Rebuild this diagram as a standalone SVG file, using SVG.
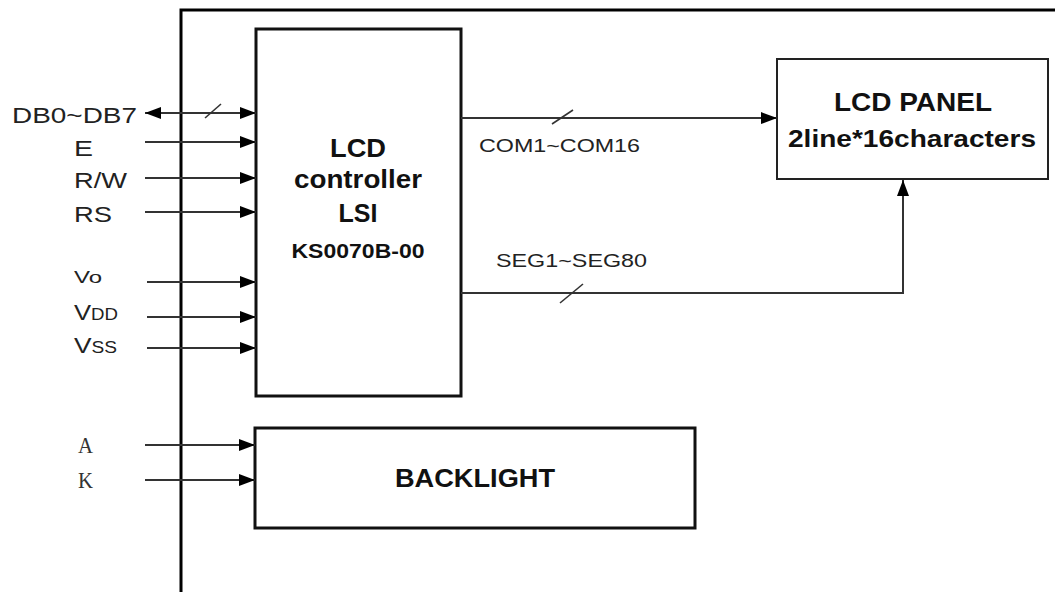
<svg xmlns="http://www.w3.org/2000/svg" width="1055" height="592" viewBox="0 0 1055 592">
<style>
.frame{fill:none;stroke:#000;stroke-width:3}
.box{fill:#fff;stroke:#111;stroke-width:3}
.box2{fill:#fff;stroke:#222;stroke-width:2}
.wire{fill:none;stroke:#333;stroke-width:2}
.slash{stroke:#333;stroke-width:1.6}
.lbl{font-family:"Liberation Sans",Arial,sans-serif;font-size:22px;fill:#222}
.sub{font-size:16px}
.bl{font-family:"Liberation Sans",Arial,sans-serif;font-weight:bold;fill:#111}
.ser{font-family:"Liberation Serif","Times New Roman",serif;font-size:24px;fill:#333}
.bus{font-family:"Liberation Sans",Arial,sans-serif;font-size:19px;fill:#222}
</style>
<defs>
<marker id="ah" viewBox="0 0 16 12" refX="16" refY="6" markerWidth="16" markerHeight="12" markerUnits="userSpaceOnUse" orient="auto-start-reverse">
<path d="M0,0 L16,6 L0,12 z" fill="#000"/>
</marker>
</defs>
<rect width="1055" height="592" fill="#fff"/>
<path class="frame" d="M181,592 V10 H1056"/>
<g id="controller">
<rect class="box" x="256" y="29" width="205" height="367"/>
<text class="bl" x="358" y="157" font-size="25" text-anchor="middle" textLength="56" lengthAdjust="spacingAndGlyphs">LCD</text>
<text class="bl" x="358" y="188" font-size="25" text-anchor="middle" textLength="128" lengthAdjust="spacingAndGlyphs">controller</text>
<text class="bl" x="358" y="222" font-size="25" text-anchor="middle">LSI</text>
<text class="bl" x="358" y="258" font-size="20" text-anchor="middle" textLength="133" lengthAdjust="spacingAndGlyphs">KS0070B-00</text>
</g>
<g id="lcd-panel">
<rect class="box2" x="777" y="59" width="271" height="120"/>
<text class="bl" x="913" y="111" font-size="25" text-anchor="middle" textLength="158" lengthAdjust="spacingAndGlyphs">LCD PANEL</text>
<text class="bl" x="912" y="147" font-size="24" text-anchor="middle" textLength="248" lengthAdjust="spacingAndGlyphs">2line*16characters</text>
</g>
<g id="backlight">
<rect class="box" x="255" y="428" width="440" height="100"/>
<text class="bl" x="475" y="487" font-size="25" text-anchor="middle" textLength="160" lengthAdjust="spacingAndGlyphs">BACKLIGHT</text>
</g>
<g id="labels">
<text class="lbl" x="12" y="123" textLength="125" lengthAdjust="spacingAndGlyphs">DB0~DB7</text>
<text class="lbl" x="74" y="156" textLength="19" lengthAdjust="spacingAndGlyphs">E</text>
<text class="lbl" x="74" y="188" textLength="53" lengthAdjust="spacingAndGlyphs">R/W</text>
<text class="lbl" x="74" y="222" textLength="38" lengthAdjust="spacingAndGlyphs">RS</text>
<text class="lbl" x="74" y="283" textLength="28" lengthAdjust="spacingAndGlyphs"><tspan class="sub">V</tspan><tspan class="sub">o</tspan></text>
<text class="lbl" x="74" y="320" textLength="44" lengthAdjust="spacingAndGlyphs">V<tspan class="sub">DD</tspan></text>
<text class="lbl" x="74" y="353" textLength="43" lengthAdjust="spacingAndGlyphs">V<tspan class="sub">SS</tspan></text>
<text class="ser" x="78" y="453" textLength="15" lengthAdjust="spacingAndGlyphs">A</text>
<text class="ser" x="78" y="488" textLength="15" lengthAdjust="spacingAndGlyphs">K</text>
<text class="bus" x="479" y="152" textLength="161" lengthAdjust="spacingAndGlyphs">COM1~COM16</text>
<text class="bus" x="496" y="267" textLength="151" lengthAdjust="spacingAndGlyphs">SEG1~SEG80</text>
</g>
<g id="connectors">
<line class="wire" x1="145" y1="113" x2="256" y2="113" marker-start="url(#ah)" marker-end="url(#ah)"/>
<line class="slash" x1="205" y1="118" x2="221" y2="104"/>
<line class="wire" x1="145" y1="142" x2="256" y2="142" marker-end="url(#ah)"/>
<line class="wire" x1="145" y1="178" x2="256" y2="178" marker-end="url(#ah)"/>
<line class="wire" x1="145" y1="212" x2="256" y2="212" marker-end="url(#ah)"/>
<line class="wire" x1="147" y1="282" x2="256" y2="282" marker-end="url(#ah)"/>
<line class="wire" x1="147" y1="317" x2="256" y2="317" marker-end="url(#ah)"/>
<line class="wire" x1="147" y1="348" x2="256" y2="348" marker-end="url(#ah)"/>
<line class="wire" x1="145" y1="445" x2="255" y2="445" marker-end="url(#ah)"/>
<line class="wire" x1="145" y1="480" x2="255" y2="480" marker-end="url(#ah)"/>
<line class="wire" x1="461" y1="118" x2="777" y2="118" marker-end="url(#ah)"/>
<line class="slash" x1="552" y1="124" x2="573" y2="110"/>
<polyline class="wire" points="461,293 903,293 903,180" marker-end="url(#ah)"/>
<line class="slash" x1="560" y1="303" x2="583" y2="284"/>
</g>
</svg>
